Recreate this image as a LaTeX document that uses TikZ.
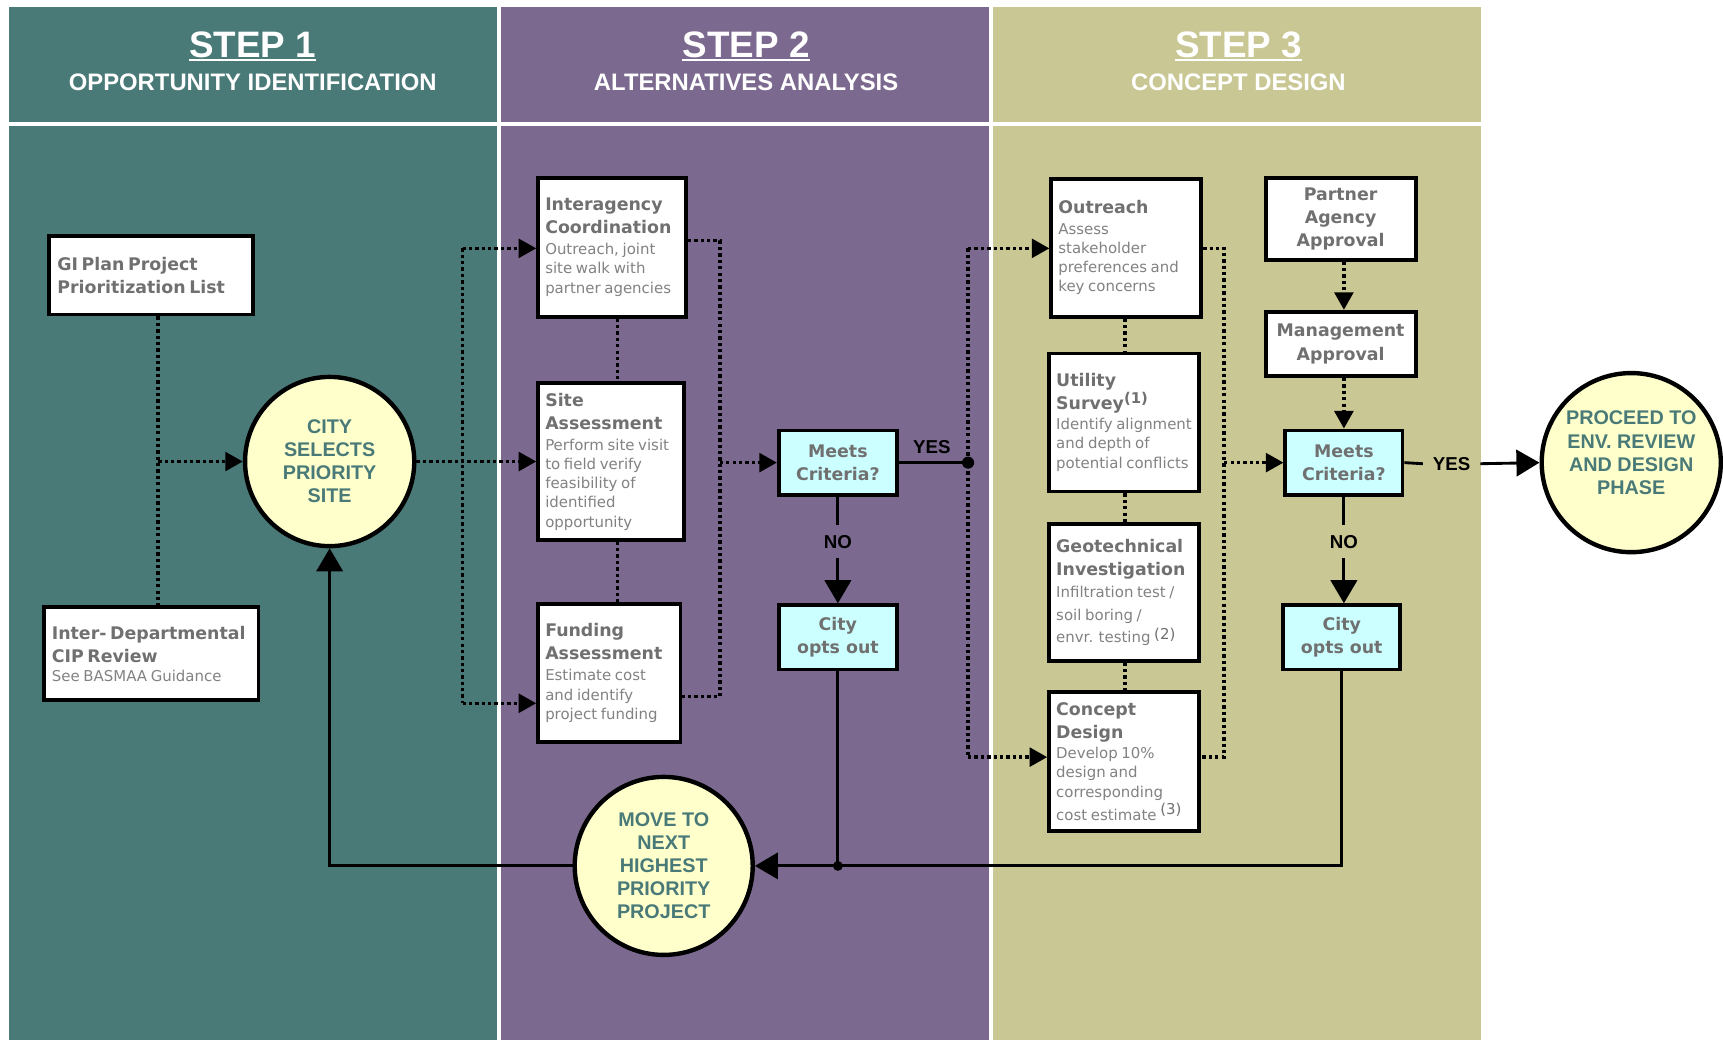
\documentclass[tikz,border=0pt]{standalone}
\usepackage{fontspec}
\setmainfont{Liberation Sans}
\newfontfamily\dvfont{DejaVu Sans}
\usetikzlibrary{arrows.meta,calc}

\definecolor{panelA}{RGB}{73,122,120}
\definecolor{panelB}{RGB}{123,105,143}
\definecolor{panelC}{RGB}{201,199,148}
\definecolor{cyanbox}{RGB}{204,255,255}
\definecolor{circfill}{RGB}{255,255,204}
\definecolor{circtext}{RGB}{74,122,120}
\definecolor{ttlgray}{RGB}{112,112,112}
\definecolor{dscgray}{RGB}{130,130,130}

\newcommand{\TitleFont}{\dvfont\bfseries\fontsize{15.8}{21}\selectfont}
\newcommand{\BoxTitle}{\TitleFont\color{ttlgray}}
\newcommand{\BoxDesc}{\dvfont\fontsize{13.6}{17.5}\selectfont\color{dscgray}}
\newcommand{\SupMark}[1]{\raisebox{6pt}{\dvfont\fontsize{13.5}{15}\selectfont\color{ttlgray}#1}}

\tikzset{
  boxn/.style={draw=black, line width=3.5pt, fill=white, inner sep=0pt},
  cyanb/.style={boxn, fill=cyanbox, align=center, font=\TitleFont, text=ttlgray},
  whiteb/.style={boxn, align=center, font=\TitleFont, text=ttlgray},
  txtn/.style={anchor=west, inner sep=0pt, text width=160pt, align=left,
    execute at begin node={\parindent=0pt}},
  circn/.style={circle, draw=black, line width=4pt, fill=circfill, inner sep=0pt,
    align=center, font=\bfseries\fontsize{18}{21}\selectfont, text=circtext},
  circtxt/.style={inner sep=0pt, align=center, font=\bfseries\fontsize{18}{21}\selectfont, text=circtext},
  dotl/.style={line width=3.2pt, dash pattern=on 3pt off 2.8pt},
  dotarr/.style={dotl, -{Triangle[length=16pt,width=17pt]}},
  solidl/.style={line width=2.6pt},
  bigarr/.style={solidl, -{Triangle[length=21pt,width=24pt]}},
  lbl/.style={inner sep=0pt, font=\bfseries\fontsize{17}{20}\selectfont, text=black},
  stepf/.style={anchor=base, inner sep=0pt, font=\bfseries\fontsize{33.5}{36}\selectfont, text=white},
  subf/.style={anchor=base, inner sep=0pt, font=\bfseries\fontsize{21.7}{24}\selectfont, text=white}
}

\begin{document}
\begin{tikzpicture}[x=1pt,y=-1pt]
\useasboundingbox (0,0) rectangle (1568,946);

% panels
\fill[panelA] (8,6) rectangle (452,111);
\fill[panelA] (8,115) rectangle (452,946);
\fill[panelB] (456,6) rectangle (900,111);
\fill[panelB] (456,115) rectangle (900,946);
\fill[panelC] (904,6) rectangle (1348,111);
\fill[panelC] (904,115) rectangle (1348,946);

% headers
\node[stepf] (s1) at (230,52) {STEP 1};
\node[stepf] (s2) at (679,52) {STEP 2};
\node[stepf] (s3) at (1127,52) {STEP 3};
\foreach \s in {s1,s2,s3}
  \draw[white, line width=2pt] ([yshift=-2.5pt]\s.base west) -- ([yshift=-2.5pt]\s.base east);
\node[subf] (h1) at (230,82) {OPPORTUNITY IDENTIFICATION};
\node[subf] (h2) at (679,82) {ALTERNATIVES ANALYSIS};
\node[subf] (h3) at (1127,82) {CONCEPT DESIGN};

% ---------- step 1 ----------
\node[boxn, minimum width=185.5pt, minimum height=71.5pt] (gi) at (137.5,250.5) {};
\node[txtn, text width=185pt] (gi-t) at ([xshift=9pt]gi.west)
  {{\BoxTitle GI Plan Project\\Prioritization List\par}};
\node[boxn, minimum width=195.5pt, minimum height=84.5pt] (cip) at (137.5,595) {};
\node[txtn, text width=190pt] (cip-t) at ([xshift=9pt]cip.west)
  {{\BoxTitle Inter- Departmental\\CIP Review\par}{\BoxDesc See BASMAA Guidance\par}};

\node[circn, minimum size=154pt] (sel) at (300,420) {CITY\\SELECTS\\PRIORITY\\SITE};

% ---------- step 2 ----------
\node[boxn, minimum width=134.5pt, minimum height=126.5pt] (inter) at (557,225) {};
\node[txtn] (inter-t) at ([xshift=8pt]inter.west)
  {{\BoxTitle Interagency\\Coordination\par}\vspace{1.5pt}{\BoxDesc Outreach, joint\\site walk with\\partner agencies\par}};
\node[boxn, minimum width=132.5pt, minimum height=142.5pt] (site) at (556,420) {};
\node[txtn] (site-t) at ([xshift=8pt]site.west)
  {{\BoxTitle Site\\Assessment\par}\vspace{1.5pt}{\BoxDesc Perform site visit\\to field verify\\feasibility of\\identified\\opportunity\par}};
\node[boxn, minimum width=129.5pt, minimum height=125.5pt] (fund) at (554.5,612.5) {};
\node[txtn] (fund-t) at ([xshift=8pt]fund.west)
  {{\BoxTitle Funding\\Assessment\par}\vspace{1.5pt}{\BoxDesc Estimate cost\\and identify\\project funding\par}};

\node[cyanb, minimum width=107.5pt, minimum height=58.5pt] (mc1) at (762.5,421) {Meets\\Criteria?};
\node[cyanb, minimum width=107.5pt, minimum height=58.5pt] (out1) at (762.5,580) {City\\opts out};

\node[circn, minimum size=162pt] (move) at (604,788) {MOVE TO\\NEXT\\HIGHEST\\PRIORITY\\PROJECT};

% ---------- step 3 ----------
\node[boxn, minimum width=136.5pt, minimum height=125.5pt] (outreach) at (1025,225.5) {};
\node[txtn] (outreach-t) at ([xshift=8pt]outreach.west)
  {{\BoxTitle Outreach\par}\vspace{1pt}{\BoxDesc Assess\\stakeholder\\preferences and\\key concerns\par}};
\node[boxn, minimum width=136.5pt, minimum height=125.5pt] (util) at (1023,384.5) {};
\node[txtn] (util-t) at ([xshift=8pt]util.west)
  {{\BoxTitle Utility\\Survey\SupMark{(1)}\par}\vspace{0.5pt}{\BoxDesc Identify alignment\\and depth of\\potential conflicts\par}};
\node[boxn, minimum width=136.5pt, minimum height=124.5pt] (geo) at (1023,539) {};
\node[txtn] (geo-t) at ([xshift=8pt]geo.west)
  {{\BoxTitle Geotechnical\\Investigation\par}{\BoxDesc\baselineskip=20.5pt Infiltration test /\\soil boring /\\envr. testing \raisebox{3pt}{\color{ttlgray}(2)}\par}};
\node[boxn, minimum width=136.5pt, minimum height=126.5pt] (concept) at (1023,693) {};
\node[txtn] (concept-t) at ([xshift=8pt]concept.west)
  {{\BoxTitle Concept\\Design\par}\vspace{1pt}{\BoxDesc Develop 10\%\\design and\\corresponding\\[2pt]cost estimate \raisebox{5pt}{\color{ttlgray}(3)}\par}};

\node[whiteb, minimum width=136.5pt, minimum height=74.5pt] (partner) at (1220,199) {Partner\\Agency\\Approval};
\node[whiteb, minimum width=136.5pt, minimum height=58.5pt] (mgmt) at (1220,313) {Management\\Approval};
\node[cyanb, minimum width=106.5pt, minimum height=58.5pt] (mc2) at (1223,421) {Meets\\Criteria?};
\node[cyanb, minimum width=106.5pt, minimum height=58.5pt] (out2) at (1221,580) {City\\opts out};

\node[circn, minimum size=163pt] (proc) at (1484.5,421) {};
\node[circtxt] (proc-t) at (1484.5,412) {PROCEED TO\\ENV. REVIEW\\AND DESIGN\\PHASE};

% ---------- connectors: step 1 ----------
\coordinate (j1) at (144,420);
\draw[dotl] (gi.south -| j1) -- (cip.north -| j1);
\draw[dotarr] (j1) -- (sel.west);

\coordinate (j2t) at (421,226);
\coordinate (j2b) at (421,640);
\draw[dotl] (j2t) -- (j2b);
\draw[dotarr] (j2t) -- (inter.west |- j2t);
\draw[dotarr] (sel.east) -- (site.west);
\draw[dotarr] (j2b) -- (fund.west |- j2b);

% ---------- connectors: step 2 ----------
\coordinate (x2) at (562,0);
\draw[dotl] (inter.south -| x2) -- (site.north -| x2);
\draw[dotl] (site.south -| x2) -- (fund.north -| x2);
\coordinate (r2t) at (655,219);
\coordinate (r2b) at (655,634);
\coordinate (r2m) at (655,421);
\draw[dotl] (inter.east |- r2t) -- (r2t) -- (r2b) -- (fund.east |- r2b);
\draw[dotarr] (r2m) -- (mc1.west);

\coordinate (d1) at (881,421);
\draw[solidl] (mc1.east) -- (d1);
\node[lbl] (yes1) at (848,407) {YES};
\coordinate (r3t) at (881,226);
\coordinate (r3b) at (881,689);
\draw[dotl] (r3t) -- (r3b);
\fill (d1) circle (5.5pt);
\draw[dotarr] (r3t) -- (outreach.west |- r3t);
\draw[dotarr] (r3b) -- (concept.west |- r3b);

\node[lbl, minimum height=30pt] (no1) at (762.5,493) {NO};
\draw[solidl] (mc1.south) -- (no1.north);
\draw[bigarr] (no1.south) -- (out1.north);

% ---------- connectors: step 3 ----------
\coordinate (x3) at (1024,0);
\draw[dotl] (outreach.south -| x3) -- (util.north -| x3);
\draw[dotl] (util.south -| x3) -- (geo.north -| x3);
\draw[dotl] (geo.south -| x3) -- (concept.north -| x3);
\coordinate (r4t) at (1114,226);
\coordinate (r4b) at (1114,689);
\coordinate (r4m) at (1114,421);
\draw[dotl] (outreach.east |- r4t) -- (r4t) -- (r4b) -- (concept.east |- r4b);
\draw[dotarr] (r4m) -- (mc2.west);

\draw[dotarr] (partner.south -| mc2) -- (mgmt.north -| mc2);
\draw[dotarr] (mgmt.south -| mc2) -- (mc2.north);

\node[lbl, minimum width=52pt] (yes2) at (1321,422) {YES};
\draw[solidl] (mc2.east) -- (yes2.west);
\draw[bigarr] (yes2.east) -- (proc.west);

\node[lbl, minimum height=30pt] (no2) at (1223,493) {NO};
\draw[solidl] (mc2.south) -- (no2.north);
\draw[bigarr] (no2.south) -- (no2.south |- out2.north);

% ---------- feedback ----------
\draw[bigarr] (out2.south) |- (move.east);
\draw[solidl] (out1.south) -- (out1.south |- move.east);
\fill (out1.south |- move.east) circle (4.5pt);
\draw[bigarr] (move.west) -| (sel.south);
\end{tikzpicture}
\end{document}
